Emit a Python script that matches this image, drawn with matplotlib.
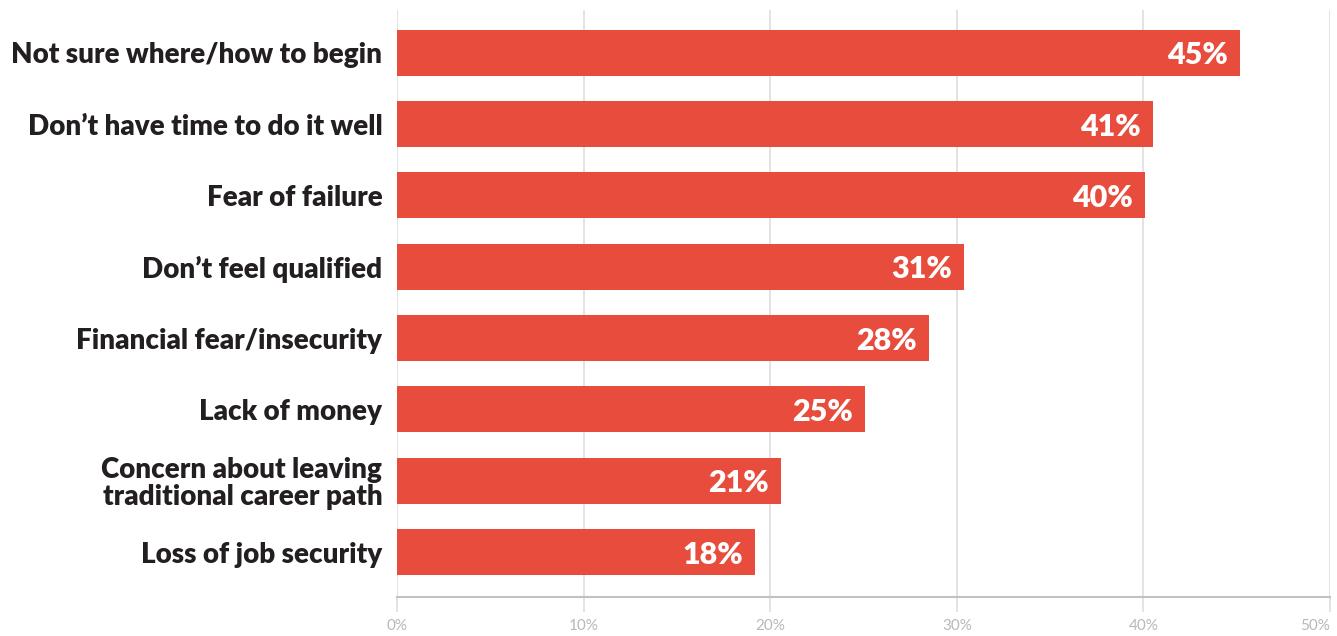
"""
horizontal bar chart of reasons for not starting
"""
import matplotlib
matplotlib.use("Agg")
import matplotlib.pyplot as plt
import numpy as np

# categories, top to bottom
reasons = ["Not sure where/how to begin",
           "Don\u2019t have time to do it well",
           "Fear of failure",
           "Don\u2019t feel qualified",
           "Financial fear/insecurity",
           "Lack of money",
           "Concern about leaving\ntraditional career path",
           "Loss of job security"]

# bar lengths as drawn in the picture (percent)
barLen = [45.2, 40.5, 40.1, 30.4, 28.5, 25.1, 20.6, 19.2]

# the printed labels on the bars
barLabels = ["45%", "41%", "40%", "31%", "28%", "25%", "21%", "18%"]

xTicks = [0, 10, 20, 30, 40, 50]
xTickLabels = ["0%", "10%", "20%", "30%", "40%", "50%"]

barCol = "#e74c3c"
textCol = "#231f20"
gridCol = "#dedede"

plt.rcParams['font.family'] = ['Lato', 'DejaVu Sans']

fig = plt.figure(figsize=(13.37, 6.36), dpi=100)
ax = fig.add_axes([0.2969, 0.0613, 0.9948 - 0.2969, 0.9843 - 0.0613])

nBar = len(reasons)
ypos = np.arange(nBar)[::-1]

ax.barh(ypos, barLen, height=0.645, color=barCol, zorder=3)

# value labels inside the bar ends
for y, v, lab in zip(ypos, barLen, barLabels):
    ax.annotate(lab, xy=(v, y), xytext=(-9, 0), textcoords="offset points",
                ha="right", va="center_baseline", color="white",
                fontsize=22, fontweight="heavy", zorder=4)

ax.set_xlim(0, 50)
ax.set_ylim(-0.63, nBar - 1 + 0.6)

ax.set_yticks(ypos)
ax.set_yticklabels(reasons, fontsize=20, fontweight="heavy", color=textCol,
                   linespacing=1.02)
ax.tick_params(axis="y", length=0, pad=10.5)

ax.set_xticks(xTicks)
ax.set_xticklabels(xTickLabels, fontsize=11, fontweight="normal", color="#b8b8b8")
ax.get_xticklabels()[-1].set_horizontalalignment("right")
ax.get_xticklabels()[-1].set_x(50.1)
ax.tick_params(axis="x", length=11, width=1.2, color=gridCol, pad=5)

# vertical gridlines
ax.grid(axis="x", color=gridCol, linewidth=1.2, zorder=0)
ax.set_axisbelow(True)

for s in ["top", "right", "left"]:
    ax.spines[s].set_visible(False)
ax.spines["bottom"].set_color("#c2c2c2")
ax.spines["bottom"].set_linewidth(1.5)

plt.savefig("out.png", dpi=100)
